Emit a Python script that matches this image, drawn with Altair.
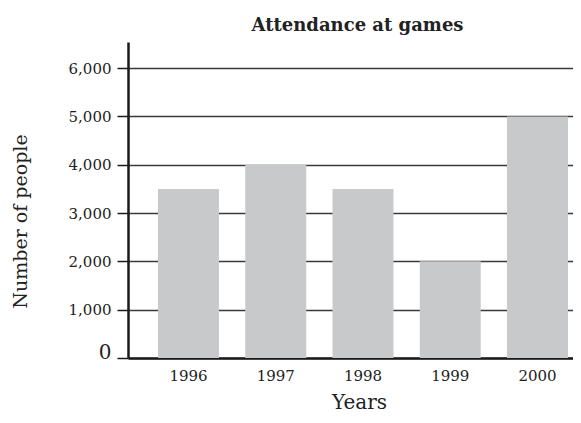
import altair as alt
import pandas as pd

years = ["1996", "1997", "1998", "1999", "2000"]
attendance = [3500, 4000, 3500, 2000, 5000]
y_ticks = [0, 1000, 2000, 3000, 4000, 5000, 6000]

df = pd.DataFrame({"year": years, "people": attendance})

FONT = "DejaVu Serif"

chart = alt.Chart(df).mark_bar(color="#c8c9cb").encode(
    x=alt.X(
        "year:N",
        sort=years,
        scale=alt.Scale(paddingInner=0.301, paddingOuter=0.2006, align=0.857),
        axis=alt.Axis(
            title="Years",
            labelAngle=0,
            ticks=False,
            tickSize=0,
            labelPadding=10,
            labelFont=FONT,
            labelFontSize=15,
            labelColor="#222222",
            titleFont=FONT,
            titleFontSize=20,
            titleFontWeight="normal",
            titleColor="#222222",
            titleX=231,
            titleY=50,
            titleBaseline="alphabetic",
            domainColor="#1a1a1a",
            domainWidth=2.5,
            grid=False,
        ),
    ),
    y=alt.Y(
        "people:Q",
        scale=alt.Scale(domain=[0, 6540], nice=False),
        axis=alt.Axis(
            title="Number of people",
            values=y_ticks,
            format=",.0f",
            tickSize=11,
            tickWidth=1.5,
            tickColor="#1a1a1a",
            labelPadding=6,
            labelFont=FONT,
            labelFontSize={"condition": {"test": "datum.value == 0", "value": 20}, "value": 15},
            labelOffset={"condition": {"test": "datum.value == 0", "value": -6}, "value": 0},
            labelColor="#222222",
            titleFont=FONT,
            titleFontSize=19,
            titleFontWeight="normal",
            titleColor="#222222",
            titleX=-102,
            titleY=179,
            titleAngle=-90,
            titleAlign="center",
            titleBaseline="alphabetic",
            domainColor="#1a1a1a",
            domainWidth=2.5,
            grid=True,
            gridColor="#3a3a3a",
            gridWidth=1.5,
        ),
    ),
).properties(
    width=445,
    height=316,
    title=alt.TitleParams(
        "Attendance at games",
        font=FONT,
        fontSize=18,
        fontWeight="bold",
        color="#222222",
        anchor="middle",
        dx=7,
        offset=7,
    ),
    autosize=alt.AutoSizeParams(type="none"),
    padding={"left": 120, "top": 34, "right": 0, "bottom": 57},
).configure_view(stroke=None)

chart.save("out.html", embed_options={"renderer": "svg", "actions": False})
